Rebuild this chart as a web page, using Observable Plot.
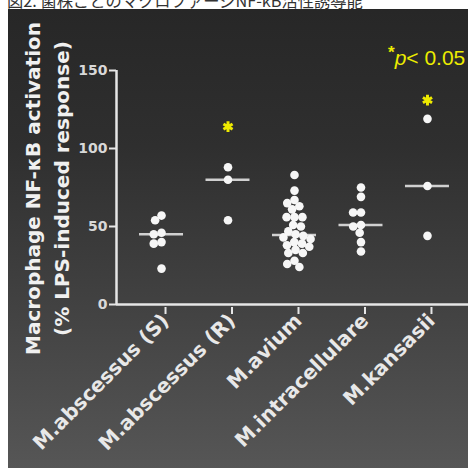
<!DOCTYPE html>
<html><head><meta charset="utf-8">
<script src="https://cdn.jsdelivr.net/npm/d3@7"></script>
<script src="https://cdn.jsdelivr.net/npm/@observablehq/plot@0.6"></script>
<style>
html,body{margin:0;padding:0;background:#fff;}
#wrap{position:relative;width:468px;height:468px;overflow:hidden;background:#fff;}
#caption{position:absolute;left:7px;top:-8px;font-size:16.3px;line-height:16px;font-family:"Noto Sans CJK JP";color:#333;white-space:nowrap;}
#panel{position:absolute;left:8px;top:9px;right:0;bottom:0;background:linear-gradient(to bottom,#272727 0%,#2f2f2f 30%,#424242 65%,#565656 100%);}
#chart{position:absolute;left:0;top:0;}
#sig{position:absolute;left:388px;top:47px;font-size:21px;line-height:21px;font-family:"Liberation Sans";color:#ecec00;white-space:nowrap;}
#sig .ast{font-weight:bold;font-size:17px;position:relative;top:-7px;}
</style></head>
<body>
<div id="wrap">
  <div id="caption"></div>
  <div id="panel"></div>
  <div id="chart"></div>
  <div id="sig"></div>
</div>
<script>
const captionText = "図2. 菌株ごとのマクロファージNF-κB活性誘導能";
const categories = ["M.abscessus (S)", "M.abscessus (R)", "M.avium", "M.intracellulare", "M.kansasii"];
const abscessusS = [57, 54, 46, 45, 40, 39, 23];
const abscessusR = [88, 80, 54];
const avium = [83, 73, 67, 65, 63, 61, 56, 56, 56, 51, 50, 47, 45, 44, 43, 42, 40, 39, 38, 37, 35, 33, 33, 28, 26, 24];
const intracellulare = [75, 69, 59, 59, 51, 50, 46, 40, 34];
const kansasii = [119, 76, 44];
const significantCategories = ["M.abscessus (R)", "M.kansasii"];
const significanceMarkValues = [114, 131];
const yTicks = [0, 50, 100, 150];
const yTitleLines = ["Macrophage NF-κB activation", "(% LPS-induced response)"];
const sigNote = {star: "*", p: "p", rest: "< 0.05"};

document.getElementById("caption").textContent = captionText;
const sig = document.getElementById("sig");
sig.innerHTML = `<span class="ast">${sigNote.star}</span><i>${sigNote.p}</i>${sigNote.rest}`;

const groups = [abscessusS, abscessusR, avium, intracellulare, kansasii];

// layout
const W = 468, H = 468, mL = 116, mR = 0, mT = 70, mB = 164;
const yDomain = [0, 150];
const xDomain = [-0.677, 4.617];
const pxPerY = (H - mT - mB) / (yDomain[1] - yDomain[0]);
const pxPerX = (W - mL - mR) / (xDomain[1] - xDomain[0]);
const R = 4.3;

// beeswarm offsets (pixel-space collision avoidance)
function swarm(values) {
  const d = 2 * R * 0.92;
  const order = d3.range(values.length).sort((a, b) => values[b] - values[a]);
  const placed = [];
  const out = new Array(values.length);
  for (const i of order) {
    const y = values[i] * pxPerY;
    const near = placed.filter(p => Math.abs(p.y - y) < d);
    const cands = [0];
    for (const p of near) {
      const w = Math.sqrt(d * d - (p.y - y) ** 2);
      cands.push(p.x - w, p.x + w);
    }
    cands.sort((a, b) => Math.abs(a) - Math.abs(b) || a - b);
    let x = 0;
    for (const c of cands) {
      if (near.every(p => Math.abs(c - p.x) >= Math.sqrt(d * d - (p.y - y) ** 2) - 1e-6)) { x = c; break; }
    }
    placed.push({x, y});
    out[i] = x;
  }
  return out;
}

const points = [];
const medians = [];
groups.forEach((vals, gi) => {
  const offs = swarm(vals);
  vals.forEach((v, j) => points.push({cat: categories[gi], i: gi, value: v, x: gi + offs[j] / pxPerX}));
  medians.push({i: gi, median: d3.median(vals)});
});
const sigMarks = significantCategories.map((c, k) => ({i: categories.indexOf(c), value: significanceMarkValues[k]}));
const halfMedian = 22 / pxPerX;

const axisColor = "#e6e6e6";
const chart = Plot.plot({
  width: W, height: H,
  marginLeft: mL, marginRight: mR, marginTop: mT, marginBottom: mB,
  style: {background: "transparent", color: axisColor, fontFamily: "DejaVu Sans", overflow: "visible"},
  x: {type: "linear", domain: xDomain},
  y: {domain: yDomain},
  marks: [
    Plot.axisY({ticks: yTicks, tickSize: 7, tickPadding: 2, fontSize: 14, fontWeight: "bold", strokeWidth: 2, label: null, fill: "#d8d8d8"}),
    Plot.axisX({ticks: d3.range(categories.length), tickFormat: i => categories[i], tickRotate: -45, tickSize: 7, tickPadding: 3, dx: 4, dy: 3, fontSize: 20, fontWeight: "bold", strokeWidth: 2, label: null, fill: "#e8e8e8"}),
    Plot.ruleX([xDomain[0]], {stroke: axisColor, strokeWidth: 2.5}),
    Plot.ruleY([0], {stroke: axisColor, strokeWidth: 2.5}),
    Plot.ruleY(medians, {y: "median", x1: d => d.i - halfMedian, x2: d => d.i + halfMedian, stroke: "#d0d0d0", strokeWidth: 2.5}),
    Plot.dot(points, {x: "x", y: "value", r: R, fill: "#f6f6f6", stroke: null}),
    Plot.dot(sigMarks, {x: "i", y: "value", symbol: "asterisk", r: 5, stroke: "#eeea00", strokeWidth: 3}),
    Plot.text([yTitleLines.join("\n")], {text: d => d, frameAnchor: "left", textAnchor: "middle", rotate: -90, dx: -71, dy: 1, fontSize: 20, fontWeight: "bold", lineHeight: 1.45, fill: "#f0f0f0"})
  ]
});
document.getElementById("chart").appendChild(chart);
</script>
</body></html>
